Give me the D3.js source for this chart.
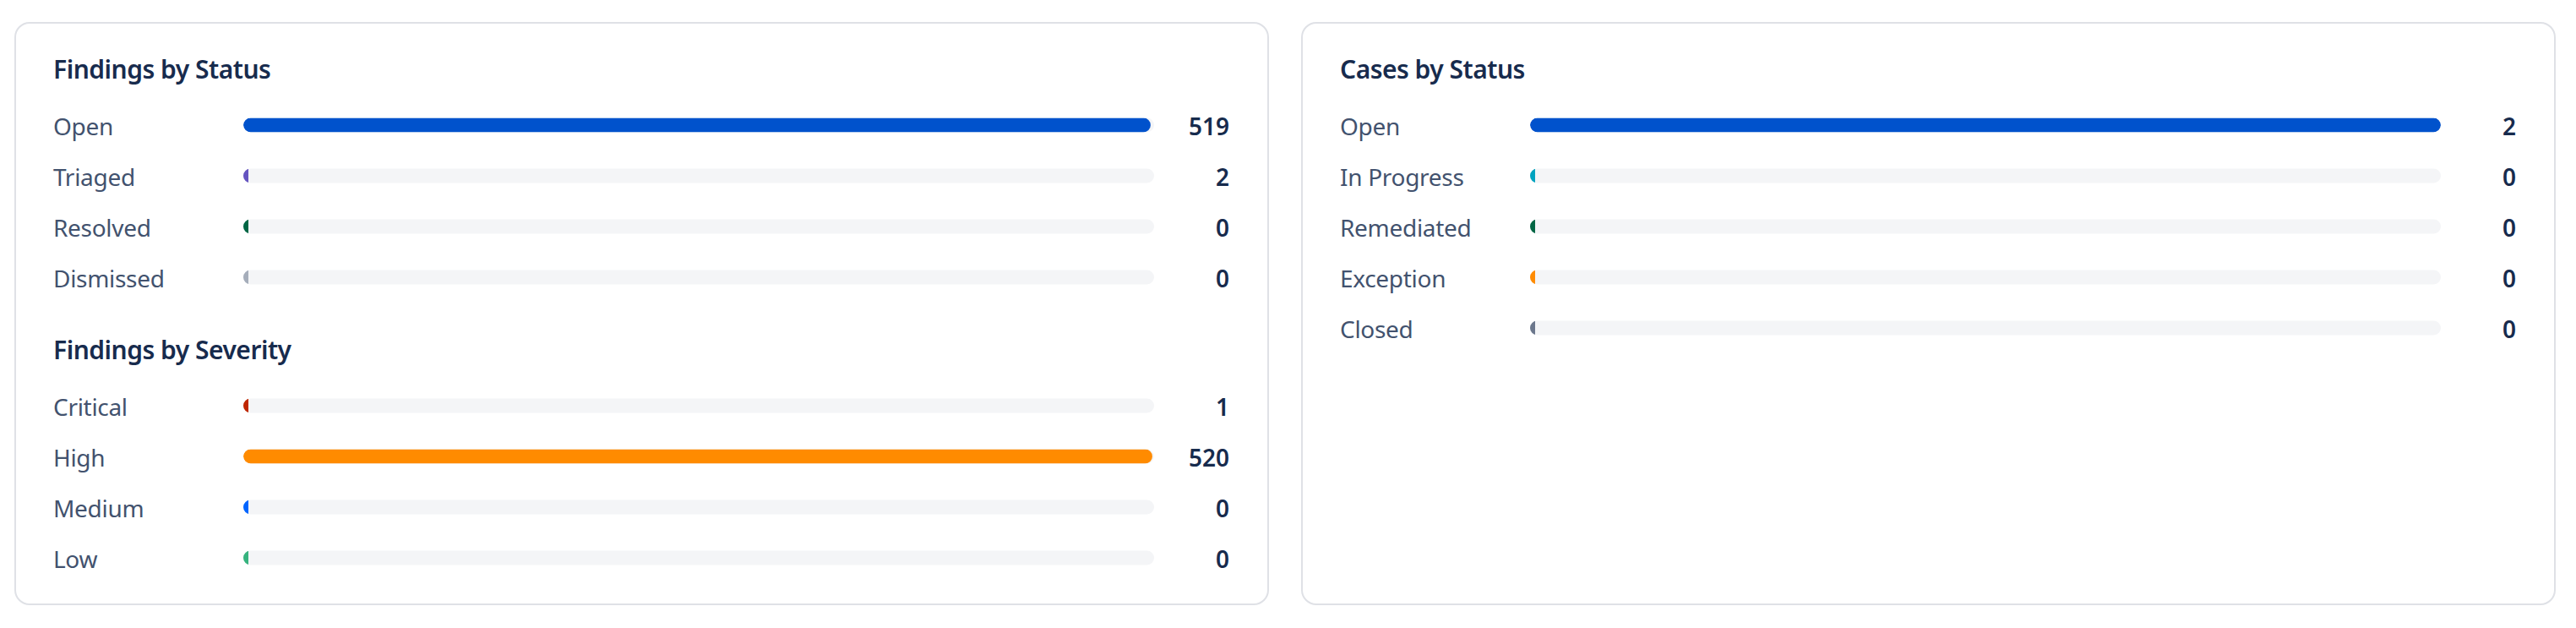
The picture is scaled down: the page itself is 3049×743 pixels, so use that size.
<!DOCTYPE html>
<html>
  <head>
    <title>Findings and Cases by Status</title>
    <meta charset="utf-8">
    <style>
      body {
        margin: 0;
        background-color: #fff;
      }
      .card {
        fill: #fff;
        stroke: #dfe1e6;
        stroke-width: 2;
      }
      .title {
        font: 600 30px "Noto Sans", sans-serif;
        letter-spacing: -0.5px;
        fill: #172b4d;
      }
      .label {
        font: 400 28px "Noto Sans", sans-serif;
        letter-spacing: -0.3px;
        fill: #42526e;
      }
      .value {
        font: 600 28px "Noto Sans", sans-serif;
        fill: #172b4d;
        text-anchor: end;
      }
      .track {
        fill: #f4f5f7;
      }
    </style>
  </head>
  <body>
  <svg class="chart"></svg>
  <script src="https://d3js.org/d3.v7.min.js"></script>
  <script>
    // data
    var statusLabels = ["Open", "Triaged", "Resolved", "Dismissed"];
    var statusValues = [519, 2, 0, 0];
    var statusColors = ["#0052cc", "#6554c0", "#006644", "#a5adba"];

    var severityLabels = ["Critical", "High", "Medium", "Low"];
    var severityValues = [1, 520, 0, 0];
    var severityColors = ["#bf2600", "#ff8b00", "#0065ff", "#36b37e"];

    var caseLabels = ["Open", "In Progress", "Remediated", "Exception", "Closed"];
    var caseValues = [2, 0, 0, 0, 0];
    var caseColors = ["#0052cc", "#00a3bf", "#006644", "#ff8b00", "#6b778c"];

    var width = 3049, height = 743;
    var rowStep = 60, barH = 17, minW = 6;

    var svg = d3.select("svg")
      .attr("width", width)
      .attr("height", height);

    var defs = svg.append("defs");
    var clipId = 0;

    // draws one card frame
    function card(x) {
      svg.append("rect")
        .attr("class", "card")
        .attr("x", x + 1).attr("y", 27)
        .attr("width", 1483).attr("height", 688)
        .attr("rx", 17);
    }

    // draws a titled group of bars inside a card
    function section(x0, titleY, labels, values, colors, title) {
      var g = svg.append("g");

      g.append("text")
        .attr("class", "title")
        .attr("x", x0 + 46)
        .attr("y", titleY)
        .text(title);

      var top = titleY + 55 - rowStep / 2;
      var y = d3.scaleBand()
        .domain(labels)
        .range([top, top + labels.length * rowStep]);

      // bars are share of the section total
      var x = d3.scaleLinear()
        .domain([0, d3.sum(values)])
        .range([x0 + 271, x0 + 1349]);

      var rows = g.selectAll("g.row")
        .data(labels.map(function(l, i) { return {label: l, value: values[i], color: colors[i]}; }))
        .enter().append("g")
        .attr("class", "row")
        .attr("transform", function(d) { return "translate(0," + (y(d.label) + y.bandwidth() / 2) + ")"; });

      rows.append("text")
        .attr("class", "label")
        .attr("x", x0 + 46)
        .attr("y", 12)
        .text(function(d) { return d.label; });

      rows.each(function(d) {
        var id = "clip" + (clipId++);
        defs.append("clipPath").attr("id", id)
          .append("rect")
          .attr("x", x.range()[0]).attr("y", -barH / 2)
          .attr("width", x.range()[1] - x.range()[0]).attr("height", barH)
          .attr("rx", barH / 2);

        var r = d3.select(this);
        r.append("rect")
          .attr("class", "track")
          .attr("x", x.range()[0]).attr("y", -barH / 2)
          .attr("width", x.range()[1] - x.range()[0]).attr("height", barH)
          .attr("rx", barH / 2);

        var w = Math.max(x(d.value) - x.range()[0], minW);
        r.append("rect")
          .attr("clip-path", "url(#" + id + ")")
          .attr("x", x.range()[0]).attr("y", -barH / 2)
          .attr("width", w).attr("height", barH)
          .attr("rx", w > barH ? barH / 2 : 0)
          .attr("fill", d.color);
      });

      rows.append("text")
        .attr("class", "value")
        .attr("x", x0 + 1438)
        .attr("y", 12)
        .text(function(d) { return d.value; });
    }

    card(17);
    card(1540);

    section(17, 93, statusLabels, statusValues, statusColors, "Findings by Status");
    section(17, 425, severityLabels, severityValues, severityColors, "Findings by Severity");
    section(1540, 93, caseLabels, caseValues, caseColors, "Cases by Status");
  </script>
  </body>
</html>
